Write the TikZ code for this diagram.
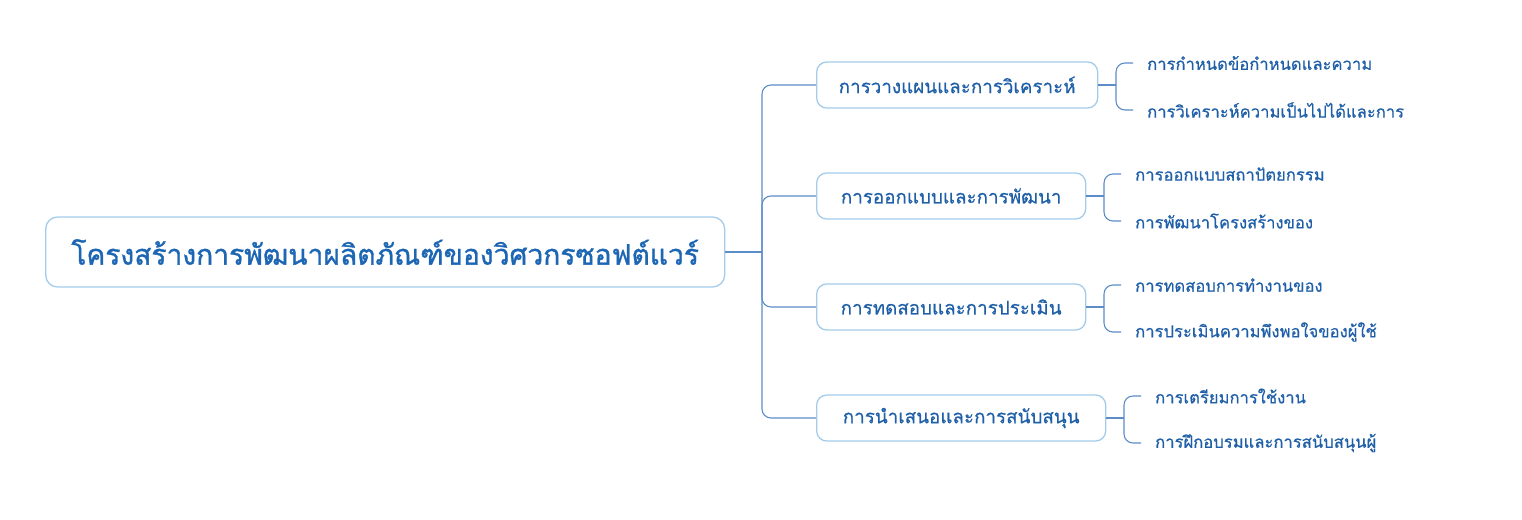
\documentclass[tikz,border=0pt]{standalone}
\usepackage{fontspec}
\newfontfamily\thaifont[Script=Thai]{Loma}
\newfontfamily\thairoot[Script=Thai,FakeBold=1.2]{Loma}
\newfontfamily\thaimid[Script=Thai,FakeBold=0.5]{Loma}
\definecolor{txt}{HTML}{1E5FA8}
\definecolor{roottxt}{HTML}{1D66B4}
\definecolor{boxline}{HTML}{A3CCEA}
\definecolor{conn}{HTML}{5B8DC9}
\tikzset{
  rootbox/.style={draw=boxline, line width=1.3pt, rounded corners=12pt, fill=white,
    text=roottxt, font=\thairoot\fontsize{28.2}{33}\selectfont, minimum height=70pt,
    minimum width=679pt, inner sep=0pt, anchor=west},
  branchbox/.style={draw=boxline, line width=1.3pt, rounded corners=10pt, fill=white,
    text=txt, font=\thaimid\fontsize{18.8}{22}\selectfont, minimum height=46pt,
    inner sep=0pt, anchor=west},
  leaf/.style={text=txt, font=\thaimid\fontsize{16.6}{20}\selectfont, inner sep=0pt, anchor=west},
  link/.style={draw=conn, line width=1.1pt, rounded corners=9pt},
}
\begin{document}
\begin{tikzpicture}[x=1pt,y=-1pt]
\useasboundingbox[fill=white] (0,0) rectangle (1522,519);
% root
\node[rootbox] (root) at (45,252) {โครงสร้างการพัฒนาผลิตภัณฑ์ของวิศวกรซอฟต์แวร์};
% branches
\node[branchbox, minimum width=281pt] (b1) at (816,85) {การวางแผนและการวิเคราะห์};
\node[branchbox, minimum width=269pt] (b2) at (816,196) {การออกแบบและการพัฒนา};
\node[branchbox, minimum width=269pt] (b3) at (816,307) {การทดสอบและการประเมิน};
\node[branchbox, minimum width=289pt] (b4) at (816,418) {การนำเสนอและการสนับสนุน};
% leaves
\node[leaf] (l11) at (1147,63) {การกำหนดข้อกำหนดและความ};
\node[leaf] (l12) at (1147,110) {การวิเคราะห์ความเป็นไปได้และการ};
\node[leaf] (l21) at (1135,174) {การออกแบบสถาปัตยกรรม};
\node[leaf] (l22) at (1135,221) {การพัฒนาโครงสร้างของ};
\node[leaf] (l31) at (1135,285) {การทดสอบการทำงานของ};
\node[leaf] (l32) at (1135,332) {การประเมินความพึงพอใจของผู้ใช้};
\node[leaf] (l41) at (1155,396) {การเตรียมการใช้งาน};
\node[leaf] (l42) at (1155,443) {การฝึกอบรมและการสนับสนุนผู้};
% trunk
\coordinate (t) at (762,252);
\draw[link] (root.east) -- (t);
\foreach \b in {b1,b2,b3,b4} {\draw[link] (t) |- (\b.west);}
% brackets
\coordinate (k1) at (1116,85);
\coordinate (k2) at (1104,196);
\coordinate (k3) at (1104,307);
\coordinate (k4) at (1124,418);
\draw[link] (b1.east) -- (k1);
\draw[link] (b2.east) -- (k2);
\draw[link] (b3.east) -- (k3);
\draw[link] (b4.east) -- (k4);
\draw[link, shorten >=14pt] (k1) |- (l11.west);
\draw[link, shorten >=14pt] (k1) |- (l12.west);
\draw[link, shorten >=14pt] (k2) |- (l21.west);
\draw[link, shorten >=14pt] (k2) |- (l22.west);
\draw[link, shorten >=14pt] (k3) |- (l31.west);
\draw[link, shorten >=14pt] (k3) |- (l32.west);
\draw[link, shorten >=14pt] (k4) |- (l41.west);
\draw[link, shorten >=14pt] (k4) |- (l42.west);
\end{tikzpicture}
\end{document}
